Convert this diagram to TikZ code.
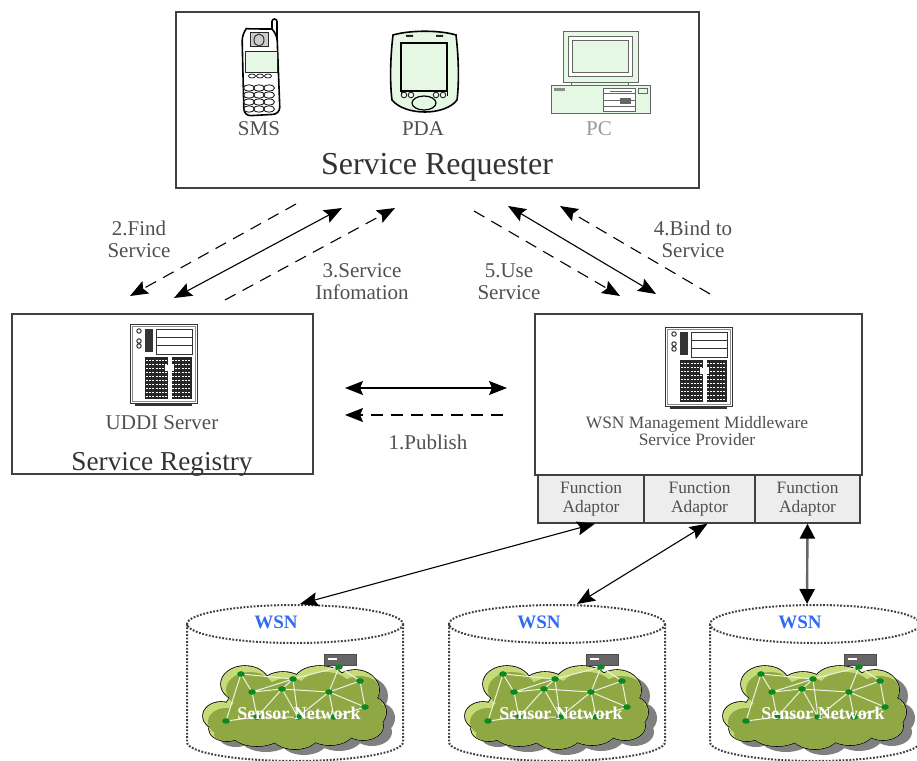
\documentclass[tikz,border=0pt]{standalone}
\usepackage{fontspec}
\setmainfont{Liberation Serif}
\usetikzlibrary{arrows.meta}
\definecolor{lbl}{HTML}{505050}
\definecolor{pale}{HTML}{E4F8E4}
\definecolor{cloudg}{HTML}{8FA843}
\definecolor{cloudl}{HTML}{C6DA78}
\definecolor{dotg}{HTML}{0A8A1E}
\definecolor{wsnb}{HTML}{2F6BF0}
\newcommand{\fs}[1]{\fontsize{#1}{#1}\selectfont}
\newcommand{\cloudpath}{(-50,60) ellipse (24 and 18) (-12,62) ellipse (22 and 14) (25,58) ellipse (26 and 16) (60,66) ellipse (24 and 20) (-74,92) ellipse (18 and 14) (-68,105) ellipse (18 and 12) (76,88) ellipse (15 and 15) (68,102) ellipse (20 and 14) (-38,108) ellipse (26 and 14) (0,110) ellipse (24 and 15) (35,106) ellipse (24 and 15) (0,85) ellipse (70 and 30)}
\tikzset{
  panel/.style={draw=black!75,line width=1.5pt,fill=white,inner sep=0pt},
  adaptor/.style={draw=black!75,line width=1.3pt,fill=black!7,inner sep=0pt,minimum height=48pt,text=lbl,font=\fs{17.4},align=center},
  lab/.style={text=lbl,font=\fs{21},align=center,inner sep=0pt},
  head/.style={text=black!80,font=\fs{32},inner sep=0pt},
  dashedarrow/.style={dash pattern=on 12pt off 8pt,line width=1.1pt,-{Stealth[length=18pt,width=14pt,inset=3pt]}},
  twoway/.style={line width=1.1pt,{Stealth[length=18pt,width=14pt,inset=3pt]}-{Stealth[length=18pt,width=14pt,inset=3pt]}},
  pics/serverpic/.style={code={
    \draw[black!80,line width=1pt,fill=white] (0,0) rectangle (67,79);
    \draw[black!45,line width=1pt] (2,2) rectangle (65,77);
    \draw[black!80,line width=2pt] (5,80.5) -- (62,80.5);
    \draw[black!80,line width=1pt] (26,5) rectangle (62,30) (26,13) -- (62,13) (26,21) -- (62,21);
    \fill[black!80] (15,5) rectangle (23,28);
    \draw[black!80,line width=1pt,fill=white] (9,7) circle (2.2) (9,17) circle (2.2) (9,22) circle (2.2);
    \fill[black!85] (15,33) rectangle (62,75);
    \foreach \yy in {36,40,...,72} {
      \draw[white,line width=.7pt,dash pattern=on 2pt off 1.2pt] (16,\yy) -- (38,\yy) (42,\yy) -- (61,\yy);
    }
    \fill[white] (38,33) rectangle (42,75);
    \fill[white] (35,41) rectangle (44,47);
  }},
  pics/wsncyl/.style={code={
    \draw[black!75,line width=2pt,dash pattern=on 1.8pt off 1.6pt]
      (0,0) ellipse [x radius=#1,y radius=19]
      (-#1,0) -- (-#1,118) arc [start angle=180,delta angle=-180,x radius=#1,y radius=19] -- (#1,0);
    \fill[black!50,shift={(9,6)}] \cloudpath;
    \draw[black,line width=1.6pt] \cloudpath;
    \fill[cloudl] \cloudpath;
    \begin{scope}
      \clip \cloudpath;
      \fill[cloudg,shift={(5,6)}] \cloudpath;
      \fill[cloudg] (5,92) ellipse (74 and 28);
    \end{scope}
    \draw[black!70,fill=black!60,line width=.8pt] (29,30) rectangle (61,41);
    \fill[white] (33,34) rectangle (42,36);
    \coordinate (a) at (-54,50); \coordinate (b) at (-2,55); \coordinate (c) at (44,43);
    \coordinate (d) at (65,57); \coordinate (e) at (-43,68); \coordinate (f) at (-13,65);
    \coordinate (g) at (34,68); \coordinate (h) at (70,83); \coordinate (i) at (-69,97);
    \coordinate (j) at (-38,93); \coordinate (k) at (3,93); \coordinate (l) at (39,93);
    \draw[white!85!cloudg,line width=1pt] (a)--(b)--(c)--(d)--(h)--(g)--(c) (a)--(e)--(f)--(g)--(d) (a)--(i)--(j)--(k)--(l)--(h)
      (e)--(b)--(f)--(j) (e)--(j) (f)--(k)--(b) (g)--(k) (g)--(l);
    \foreach \p in {a,b,c,d,e,f,g,h,i,j,k,l} { \fill[dotg] (\p) ellipse [x radius=3.8,y radius=2.8]; }
  }}
}
\begin{document}
\begin{tikzpicture}[x=1pt,y=-1pt]
\useasboundingbox (0,0) rectangle (917,760);
% panels
\node[panel,minimum width=523pt,minimum height=176pt] (req) at (437.5,100) {};
\node[panel,minimum width=301pt,minimum height=160pt] (reg) at (162.5,394) {};
\node[panel,minimum width=327pt,minimum height=161pt] (prov) at (698.5,394.5) {};
\node[adaptor,minimum width=106pt] (fa1) at (591,499) {Function\\[1.6pt]Adaptor};
\node[adaptor,minimum width=111pt] (fa2) at (699.5,499) {Function\\[1.6pt]Adaptor};
\node[adaptor,minimum width=105pt] (fa3) at (807.5,499) {Function\\[1.6pt]Adaptor};
% phone
\draw[black,line width=1.6pt,fill=white] (272,48) -- (272,21.5) arc [start angle=180,delta angle=180,radius=2.5] -- (277,48) -- cycle;
\draw[black,line width=1.6pt,fill=white,rounded corners=7pt] (242,34) .. controls (246,29) and (272,29) .. (277,34) -- (280,114) -- (244,116) -- cycle;
\draw[black!85,line width=1pt,fill=black!20] (250,33) rectangle (268,47);
\draw[black!80,line width=1pt] (259,40) ellipse [x radius=5,y radius=6];
\draw[black!85,line width=1pt,fill=pale] (245,52) rectangle (277,72);
\foreach \kx in {252,260,268} { \draw[black!85,line width=.8pt] (\kx,76) ellipse [x radius=3.6,y radius=2]; }
\foreach \ky in {88,95,102,109} { \foreach \kx in {249,259,269} { \draw[black!85,line width=.9pt] (\kx,\ky) ellipse [x radius=5.5,y radius=3.2]; } }
% PDA
\draw[black,line width=1.6pt,fill=pale] (393,35) .. controls (410,30) and (440,30) .. (456,35) .. controls (459,60) and (459,85) .. (457,100) .. controls (445,116) and (405,116) .. (392,100) .. controls (390,85) and (390,60) .. (393,35) -- cycle;
\draw[black,line width=1.3pt,fill=pale] (401,43) rectangle (447,91);
\draw[black,line width=1pt] (401,43) -- (401,96) (447,43) -- (447,96);
\fill[black!85] (406,35) rectangle (413,37) (436,35) rectangle (443,37);
\draw[black,line width=1.2pt,fill=pale] (424,103) ellipse [x radius=12,y radius=7];
\foreach \kx in {404,411,436,443} { \draw[black!85,line width=.9pt] (\kx,95) circle (2.8); }
% PC
\begin{scope}[draw=black!60,line width=1pt]
\draw[fill=pale] (563,32) rectangle (638,82);
\draw[fill=white] (568,37) rectangle (632,76);
\draw[fill=pale] (572,41) rectangle (628,72);
\draw[fill=pale] (571,82) rectangle (628,86);
\draw[fill=pale] (551,85) rectangle (650,113);
\draw[fill=white] (603,88) rectangle (635,111);
\draw (603,93) -- (635,93) (603,100) -- (635,100) (603,106) -- (635,106);
\draw (610,91) -- (632,91);
\fill[black!60] (620,98) rectangle (631,104);
\fill[black!45] (554,88) rectangle (565,91);
\draw (638,88) rectangle (647,93);
\end{scope}
% servers
\pic at (130,324) {serverpic};
\pic at (665,327) {serverpic};
% labels
\node[lab] (tsms) at (259,129) {SMS};
\node[lab] (tpda) at (423,129) {PDA};
\node[lab,text=black!40] (tpc) at (599,129) {PC};
\node[head] (treq) at (437,167) {Service Requester};
\node[lab] (tuddi) at (162,423) {UDDI Server};
\node[head,font=\fs{27.3}] (treg) at (162,464) {Service Registry};
\node[lab,font=\fs{17.4},align=center] (tprov) at (697,431) {WSN Management Middleware\\[-1.2pt]Service Provider};
\node[lab] (t2) at (139,239.5) {2.Find\\[1pt]Service};
\node[lab] (t3) at (362,282) {3.Service\\[1pt]Infomation};
\node[lab] (t5) at (509,282) {5.Use\\[1pt]Service};
\node[lab] (t4) at (693,239.5) {4.Bind to\\[1pt]Service};
\node[lab] (t1) at (428,442) {1.Publish};
% WSN cylinders
\pic at (295,624) {wsncyl=108};
\pic at (557,624) {wsncyl=108};
\pic at (815,624) {wsncyl=105};
\node[text=wsnb,font=\bfseries\fs{19},inner sep=0pt] (w1) at (276,622) {WSN};
\node[text=wsnb,font=\bfseries\fs{19},inner sep=0pt] (w2) at (539,622) {WSN};
\node[text=wsnb,font=\bfseries\fs{19},inner sep=0pt] (w3) at (800,622) {WSN};
\node[text=white,font=\bfseries\fs{18},inner sep=0pt] (s1) at (299,713) {Sensor Network};
\node[text=white,font=\bfseries\fs{18},inner sep=0pt] (s2) at (561,713) {Sensor Network};
\node[text=white,font=\bfseries\fs{18},inner sep=0pt] (s3) at (823,713) {Sensor Network};
% connector ends
\coordinate (a2s) at (296,204); \coordinate (a2e) at (130,296);
\coordinate (b1s) at (342,208); \coordinate (b1e) at (174,298);
\coordinate (a3s) at (225,300); \coordinate (a3e) at (395,208);
\coordinate (a5s) at (474,211); \coordinate (a5e) at (620,296);
\coordinate (b2s) at (508,206); \coordinate (b2e) at (656,294);
\coordinate (a4s) at (710,294); \coordinate (a4e) at (560,206);
\coordinate (m1s) at (345,388); \coordinate (m1e) at (507,388);
\coordinate (m2s) at (503,415); \coordinate (m2e) at (345,415);
\coordinate (c1) at (300,604); \coordinate (c2) at (577,604); \coordinate (c3) at (807,604);
\draw[dashedarrow] (a2s) -- (a2e);
\draw[twoway] (b1s) -- (b1e);
\draw[dashedarrow] (a3s) -- (a3e);
\draw[dashedarrow] (a5s) -- (a5e);
\draw[twoway] (b2s) -- (b2e);
\draw[dashedarrow] (a4s) -- (a4e);
\draw[twoway] (m1s) -- (m1e);
\draw[dashedarrow] (m2s) -- (m2e);
\draw[twoway] ([xshift=4pt]fa1.south) -- (c1);
\draw[twoway] ([xshift=8pt]fa2.south) -- (c2);
\draw[line width=2.4pt,draw=black!60,{Stealth[length=15pt,width=15pt,inset=0pt,black]}-{Stealth[length=15pt,width=15pt,inset=0pt,black]}] (fa3.south) -- (c3);
\end{tikzpicture}
\end{document}
